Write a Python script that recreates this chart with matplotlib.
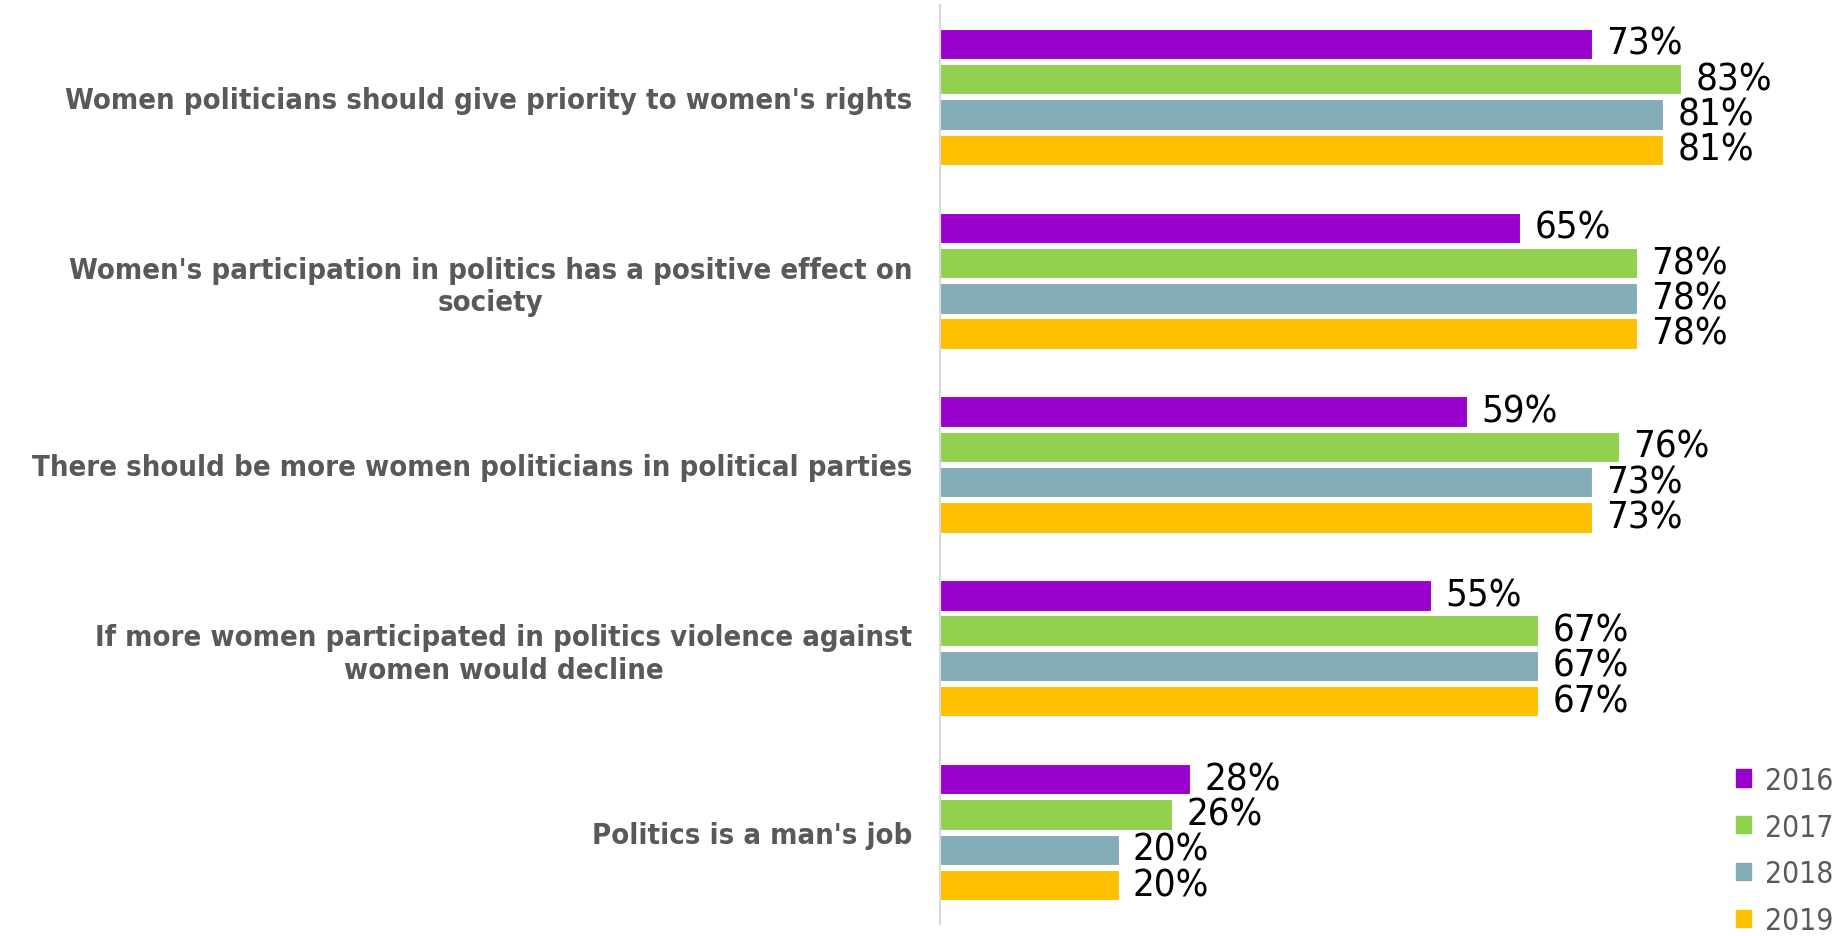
import matplotlib
matplotlib.use("Agg")
import matplotlib.pyplot as plt
from matplotlib import font_manager as fm
from matplotlib.patches import Patch

categories = [
    "Women politicians should give priority to women's rights",
    "Women's participation in politics has a positive effect on\nsociety",
    "There should be more women politicians in political parties",
    "If more women participated in politics violence against\nwomen would decline",
    "Politics is a man's job",
]
years = ["2016", "2017", "2018", "2019"]
v2016 = [73, 65, 59, 55, 28]
v2017 = [83, 78, 76, 67, 26]
v2018 = [81, 78, 73, 67, 20]
v2019 = [81, 78, 73, 67, 20]
series = [v2016, v2017, v2018, v2019]
colors = ["#9900CC", "#92D050", "#84ACB6", "#FFC000"]

# look for a condensed face
cond_reg, cond_bold = None, None
for f in fm.fontManager.ttflist:
    nm = (f.fname + " " + f.name).lower()
    if ("condensed" in nm or "narrow" in nm or f.stretch in ("condensed", "semi-condensed", 600, 500)) \
            and "oblique" not in nm and "italic" not in nm:
        if f.weight in ("bold", 700) or "bold" in f.fname.lower():
            cond_bold = cond_bold or f.fname
        else:
            cond_reg = cond_reg or f.fname

def fp(size, bold=False):
    path = cond_bold if bold else cond_reg
    if path:
        return fm.FontProperties(fname=path, size=size)
    return fm.FontProperties(family="DejaVu Sans", weight="bold" if bold else "normal",
                             size=size * 0.88)

fig = plt.figure(figsize=(18.49, 9.37), dpi=100)
ax = fig.add_axes([940/1849, 12/937, 893/1849, 919/937])

n = len(categories)
step = 0.192
h = 0.165
for i, (vals, c) in enumerate(zip(series, colors)):
    ys = [k + step*(i-1.5) for k in range(n)]
    ax.barh(ys, vals, height=h, color=c, edgecolor="white", linewidth=0.8)
    for y, v in zip(ys, vals):
        ax.text(v + 1.6, y, f"{v}%", va="center", ha="left",
                fontproperties=fp(27.5), color="black")

ax.set_xlim(0, 100)
ax.set_ylim(n - 0.5, -0.5)
ax.set_yticks(range(n))
ax.set_yticklabels(categories, color="#595959", multialignment="center")
for t in ax.get_yticklabels():
    t.set_fontproperties(fp(21, bold=True))
ax.tick_params(axis="y", length=0, pad=20)
ax.set_xticks([])
for s in ["top", "right", "bottom"]:
    ax.spines[s].set_visible(False)
ax.spines["left"].set_color("#D9D9D9")
ax.spines["left"].set_linewidth(1.5)

handles = [Patch(color=c, label=y) for c, y in zip(colors, years)]
leg = fig.legend(handles=handles, loc="lower right", bbox_to_anchor=(1.006, -0.028),
                 frameon=False, handlelength=0.5, handleheight=0.5,
                 handletextpad=0.45, labelspacing=0.6, prop=fp(21.5))
for t in leg.get_texts():
    t.set_color("#595959")

fig.savefig("out.png", dpi=100, facecolor="white")
